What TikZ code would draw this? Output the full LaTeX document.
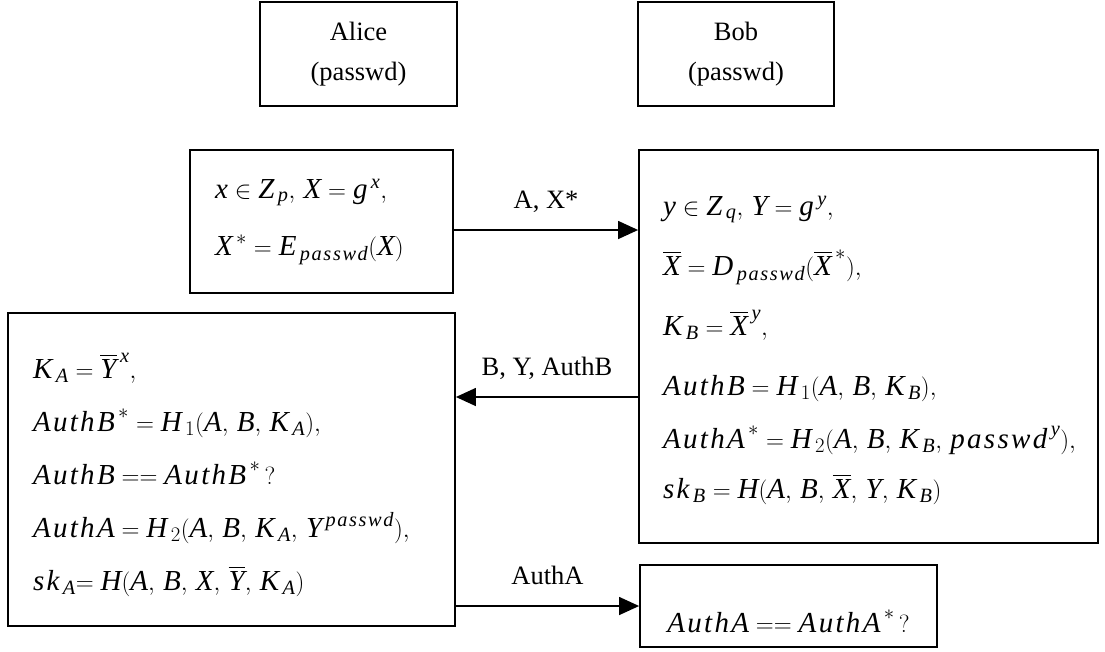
\documentclass[tikz,border=0pt]{standalone}
\usepackage{amsmath}
\usepackage{fontspec}
\setmainfont{Liberation Serif}
\newfontfamily\mifam{Liberation Serif}[LetterSpace=8]
\usetikzlibrary{arrows.meta}
% italic variable names, spaced as in an equation editor
\newcommand\mv[1]{\text{\mifam\itshape #1}}
\newcommand\ov[1]{\overline{\mv{#1}}}
% sub- and superscripts set a little apart from their base
\newcommand\ix[2]{#1_{\mkern3mu #2}}
\newcommand\px[2]{#1^{\mkern3mu #2}}
% argument separator with a little extra room
\newcommand\sepc{,\,}
% one unbreakable formula line
\newcommand\fl[1]{\mbox{$#1$}}
\begin{document}
\begin{tikzpicture}[x=1pt,y=-1pt,
  party/.style={draw,line width=1.8pt,minimum width=#1,minimum height=104pt,
    align=center,inner sep=0pt,font=\fontsize{26.5}{40}\selectfont},
  calc/.style={draw,line width=1.8pt,align=left,inner ysep=0pt,inner xsep=25pt},
  msg/.style={line width=1.4pt,-{Triangle[length=20pt,width=18pt]}},
  lbl/.style={anchor=base,yshift=22pt,font=\fontsize{26.5}{30}\selectfont}]
\useasboundingbox (0,0) rectangle (1105,651);

% the two parties
\node[party=197pt] (alice) at (358.5,54) {Alice\\(passwd)};
\node[party=196pt] (bob)   at (736,54)   {Bob\\(passwd)};

% Alice: first step
\node[calc,text width=213pt,text height=48pt,text depth=95pt,
  font=\fontsize{29}{57}\selectfont]
  (a1) at (321.5,221.5)
  {\fl{\mv{x}\in\ix{\mv{Z}}{\mv{p}}\sepc\mv{X}=\px{\mv{g}}{\mv{x}},}\\
   \fl{\px{\mv{X}}{*}=\ix{\mv{E}}{\mv{passwd}}(\mv{X})}};

% Bob: response
\node[calc,inner xsep=24pt,text width=411pt,text height=65pt,text depth=328pt,
  font=\fontsize{29}{50}\selectfont]
  (b1) at (868.5,346.5)
  {\fl{\mv{y}\in\ix{\mv{Z}}{\mv{q}}\sepc\mv{Y}=\px{\mv{g}}{\mv{y}},}\\[10pt]
   \fl{\ov{X}=\ix{\mv{D}}{\mv{passwd}}(\px{\ov{X}}{*}),}\\[10pt]
   \fl{\ix{\mv{K}}{\mv{B}}=\px{\ov{X}}{\mv{y}},}\\[10pt]
   \fl{\mv{AuthB}=\ix{\mv{H}}{1}(\mv{A}\sepc\mv{B}\sepc\ix{\mv{K}}{\mv{B}}),}\\[3pt]
   \fl{\px{\mv{AuthA}}{*}=\ix{\mv{H}}{2}(\mv{A}\sepc\mv{B}\sepc\ix{\mv{K}}{\mv{B}}\sepc\px{\mv{passwd}}{\mv{y}}),}\\
   \fl{\ix{\mv{sk}}{\mv{B}}=\mv{H}(\mv{A}\sepc\mv{B}\sepc\ov{X}\sepc\mv{Y}\sepc\ix{\mv{K}}{\mv{B}})}};

% Alice: verification and key
\node[calc,text width=397pt,text height=65pt,text depth=248pt,
  font=\fontsize{29}{53}\selectfont]
  (a2) at (231.5,469.5)
  {\fl{\ix{\mv{K}}{\mv{A}}=\px{\ov{Y}}{\mv{x}},}\\
   \fl{\px{\mv{AuthB}}{*}=\ix{\mv{H}}{1}(\mv{A}\sepc\mv{B}\sepc\ix{\mv{K}}{\mv{A}}),}\\
   \fl{\mv{AuthB}==\px{\mv{AuthB}}{*}\,?}\\
   \fl{\mv{AuthA}=\ix{\mv{H}}{2}(\mv{A}\sepc\mv{B}\sepc\ix{\mv{K}}{\mv{A}}\sepc\px{\mv{Y}}{\mv{passwd}}),}\\
   \fl{\ix{\mv{sk}}{\mv{A}}\mathord{=}\;\mv{H}(\mv{A}\sepc\mv{B}\sepc\mv{X}\sepc\ov{Y}\sepc\ix{\mv{K}}{\mv{A}})}};

% Bob: final check
\node[draw,line width=1.8pt,minimum width=297pt,inner sep=0pt,
  text height=67pt,text depth=15pt,font=\fontsize{29}{30}\selectfont]
  (b2) at (788.5,606)
  {\fl{\mv{AuthA}==\px{\mv{AuthA}}{*}\,?}};

% message levels
\coordinate (m1) at (0,230);
\coordinate (m2) at (0,397);

\draw[msg] (a1.east |- m1) -- node[lbl]{A, X*} (b1.west |- m1);
\draw[msg] (b1.west |- m2) -- node[lbl]{B, Y, AuthB} (a2.east |- m2);
\draw[msg] (a2.east |- b2.west) -- node[lbl]{AuthA} (b2.west);
\end{tikzpicture}
\end{document}
